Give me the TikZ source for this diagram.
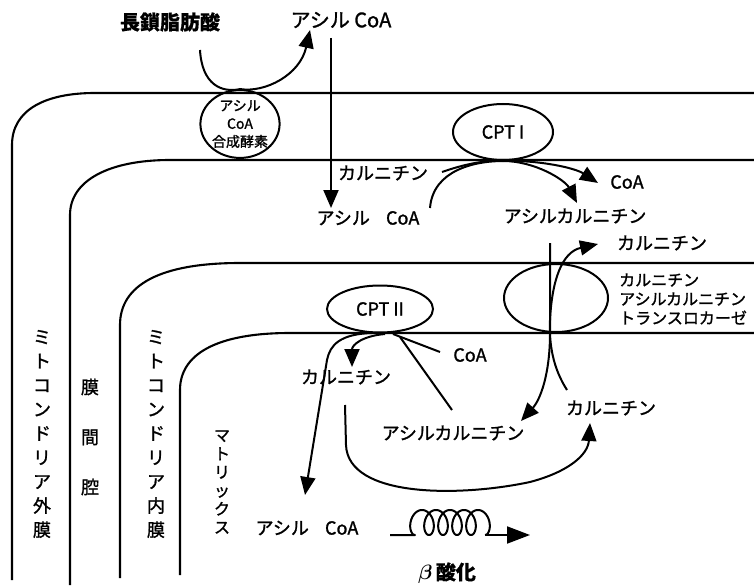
\documentclass[tikz,border=0pt]{standalone}
\usepackage{fontspec}
\setmainfont{Noto Sans CJK JP}[FakeBold=1.3,BoldFeatures={FakeBold=0.4}]
\usetikzlibrary{arrows.meta,shapes.geometric}
\begin{document}
\begin{tikzpicture}[x=1pt,y=-1pt,
  mem/.style={line width=2.1pt},
  plain/.style={line width=2pt},
  flow/.style={line width=2pt,-{Triangle[length=18pt,width=15pt]}},
  bigflow/.style={line width=2pt,-{Triangle[length=23pt,width=17pt]}},
  enz/.style={draw,ellipse,line width=2pt,inner sep=0pt,align=center,font=\fontsize{18}{20}\selectfont},
  lab/.style={inner sep=0pt,font=\fontsize{18}{20}\selectfont},
  big/.style={inner sep=0pt,font=\fontsize{20}{22}\selectfont},
  vlab/.style={inner sep=0pt,align=center,font=\fontsize{18}{24.1}\selectfont}]
\useasboundingbox (0,0) rectangle (754,588);

% membranes
\draw[mem] (754,93) -- (95,93) .. controls (45,93) and (12,110) .. (12,145) -- (12,580);
\draw[mem] (754,160) -- (170,160) .. controls (110,160) and (70,180) .. (70,215) -- (70,585);
\draw[mem] (754,263) -- (240,263) .. controls (160,263) and (120,285) .. (120,325) -- (120,578);
\draw[mem] (754,333) -- (290,333) .. controls (215,333) and (180,355) .. (180,390) -- (180,575);

% enzymes
\node[enz,minimum width=76pt,minimum height=62pt,font=\fontsize{14}{18}\selectfont] (syn) at (240,124) {アシル\\CoA\\合成酵素};
\node[enz,minimum width=100pt,minimum height=56pt] (cpt1) at (503,132) {CPT I};
\node[enz,minimum width=106pt,minimum height=47pt] (cpt2) at (380,309) {CPT II};
\node[enz,minimum width=104pt,minimum height=68pt] (trl) at (556,298) {};

% labels
\node[big,font=\bfseries\fontsize{20}{22}\selectfont] (ffa) at (170,22) {長鎖脂肪酸};
\node[big] (acoa0) at (341,20) {アシル CoA};
\node[lab] (car1) at (383,173) {カルニチン};
\node[lab] (acoa1) at (368,218) {アシル\hspace{0.9em}CoA};
\node[lab] (coa1) at (627,182) {CoA};
\node[lab] (acar1) at (575,216) {アシルカルニチン};
\node[lab] (car2) at (662,243) {カルニチン};
\node[inner sep=0pt,anchor=west,align=left,font=\fontsize{16}{19}\selectfont] (trlt) at (619,299) {カルニチン\\アシルカルニチン\\トランスロカーゼ};
\node[lab] (car3) at (611,408) {カルニチン};
\node[lab] (coa2) at (470,355) {CoA};
\node[lab] (car4) at (346,377) {カルニチン};
\node[lab] (acar2) at (453,433) {アシルカルニチン};
\node[lab] (acoa2) at (307,528) {アシル\hspace{0.9em}CoA};
\node[big,font=\bfseries\boldmath\fontsize{20}{22}\selectfont] (box) at (447,573) {$\beta$\,酸化};

% vertical labels
\node[vlab] (om) at (42,434) {ミ\\ト\\コ\\ン\\ド\\リ\\ア\\外\\膜};
\node[inner sep=0pt,align=center,font=\fontsize{18}{50}\selectfont] (ims) at (90,437) {膜\\間\\腔};
\node[vlab] (imm) at (156,434) {ミ\\ト\\コ\\ン\\ド\\リ\\ア\\内\\膜};
\node[inner sep=0pt,align=center,font=\fontsize{16}{18.4}\selectfont] (mx) at (222,482) {マ\\ト\\リ\\ッ\\ク\\ス};

% coordinates
\coordinate (p1) at (200,50);
\coordinate (p2) at (310,30);
\coordinate (p3) at (331,38);
\coordinate (p4) at (331,208);
\coordinate (p5) at (430,208);
\coordinate (p6) at (577,203);
\coordinate (p7) at (442,172);
\coordinate (p8) at (598,183);
\coordinate (p9) at (550,243);
\coordinate (p10) at (521,421);
\coordinate (p11) at (567,390);
\coordinate (p12) at (598,244);
\coordinate (p13) at (305,495);
\coordinate (p14) at (352,367);
\coordinate (p15) at (440,352);
\coordinate (p16) at (452,410);
\coordinate (p17) at (345,405);
\coordinate (p18) at (590,423);
\coordinate (k0) at (390,535);
\coordinate (k1) at (485,535);
\coordinate (k2) at (530,535);

% acyl-CoA synthetase
\draw[flow] (p1) .. controls (202,85) and (222,93) .. (syn.north) .. controls (265,93) and (300,75) .. (p2);
\draw[flow] (p3) -- (p4);

% CPT I
\draw[flow] (p5) .. controls (433,170) and (475,161) .. (cpt1.south) .. controls (535,161) and (565,180) .. (p6);
\draw[flow] (p7) .. controls (465,164) and (485,160) .. (cpt1.south) .. controls (540,160) and (575,168) .. (p8);

% translocase
\draw[flow] (p9) -- (550,333) .. controls (550,375) and (540,400) .. (p10);
\draw[flow] (p11) .. controls (553,368) and (549,345) .. (550,320) .. controls (552,280) and (562,252) .. (p12);

% CPT II
\draw[flow] (372,333) .. controls (340,334) and (330,345) .. (327,360) -- (p13);
\draw[flow] (385,334) .. controls (362,336) and (352,345) .. (p14);
\draw[plain] (393,334) -- (p15);
\draw[plain] (400,337) -- (p16);
\draw[flow] (p17) -- (346,445) .. controls (348,498) and (460,497) .. (530,482) .. controls (568,472) and (588,455) .. (p18);

% beta oxidation coil
\draw[plain,line join=round] (k0) -- (415,535) -- plot[domain=0:5,samples=241,smooth] ({415+14*\x-8*sin(360*\x)},{522.5+12.5*cos(360*\x)});
\draw[bigflow] (k1) -- (k2);
\end{tikzpicture}
\end{document}
